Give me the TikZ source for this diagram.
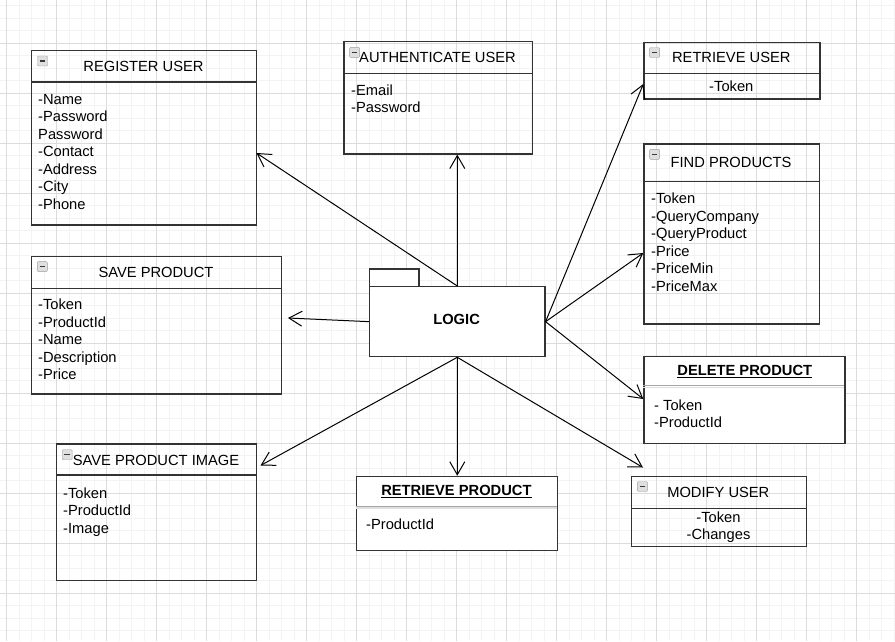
\documentclass[tikz,border=0pt]{standalone}
\usepackage{fontspec}
\setmainfont{Liberation Sans}
\usetikzlibrary{arrows.meta}
\definecolor{minorgrid}{HTML}{F3F3F3}
\definecolor{majorgrid}{HTML}{DCDCDC}
\definecolor{boxline}{HTML}{333333}
\newcommand{\dgfont}{\fontsize{14.7}{17.5}\selectfont}
\begin{document}
\begin{tikzpicture}[x=1pt,y=-1pt,
  box/.style={draw=boxline, line width=1.3pt, inner sep=0pt, anchor=north west},
  wbox/.style={box, fill=white},
  divider/.style={draw=boxline, line width=1.3pt},
  title/.style={font=\dgfont, inner sep=0pt, anchor=base},
  body/.style={font=\dgfont, inner sep=0pt, anchor=north west, align=left},
  cbody/.style={font=\dgfont, inner sep=0pt, anchor=north, align=center},
  icon/.style={draw=gray!75, fill=gray!25, rounded corners=1pt, minimum size=10pt, inner sep=0pt,
    path picture={\draw[gray!45!black, line width=1.3pt] ([xshift=-2.8pt]path picture bounding box.center) -- ([xshift=2.8pt]path picture bounding box.center);}},
  link/.style={draw=black, line width=1pt, -{Straight Barb[length=13pt,width=15pt,line width=1pt]}}
]
\useasboundingbox (0,0) rectangle (895,641);
% grid
\foreach \i in {0,...,71} {\draw[minorgrid, line width=1pt] ({6.7+12.5*\i},0) -- ({6.7+12.5*\i},641);}
\foreach \i in {0,...,51} {\draw[minorgrid, line width=1pt] (0,{5.8+12.5*\i}) -- (895,{5.8+12.5*\i});}
\foreach \i in {0,...,17} {\draw[majorgrid, line width=1pt] ({6.7+50*\i},0) -- ({6.7+50*\i},641);}
\foreach \i in {0,...,12} {\draw[majorgrid, line width=1pt] (0,{43.3+50*\i}) -- (895,{43.3+50*\i});}

% REGISTER USER
\node[box, minimum width=225pt, minimum height=174.3pt] (reg) at (31,50) {};
\draw[divider] (31,82) -- (256,82);
\node[icon] (regicon) at (42.5,61) {};
\node[title] (regt) at (143.5,71.3) {REGISTER USER};
\node[body] (regb) at (38,92) {\strut-Name\\\strut-Password\\\strut Password\\\strut-Contact\\\strut-Address\\\strut-City\\\strut-Phone};

% AUTHENTICATE USER
\node[box, minimum width=188.4pt, minimum height=112.3pt] (auth) at (343.3,41) {};
\draw[divider] (343.3,73.3) -- (531.7,73.3);
\node[icon] (authicon) at (354.6,52.3) {};
\node[title] (autht) at (437.5,62.6) {AUTHENTICATE USER};
\node[body] (authb) at (351,83) {\strut-Email\\\strut-Password};

% RETRIEVE USER
\node[box, minimum width=176pt, minimum height=56.6pt] (ru) at (643.3,41.7) {};
\draw[divider] (643.3,73.3) -- (819.3,73.3);
\node[icon] (ruicon) at (654.6,52.5) {};
\node[title] (rut) at (731.3,62.8) {RETRIEVE USER};
\node[cbody] (rub) at (731.3,79) {\strut-Token};

% FIND PRODUCTS
\node[box, minimum width=175.7pt, minimum height=180pt] (fp) at (643.3,143.3) {};
\draw[divider] (643.3,181.3) -- (819,181.3);
\node[icon] (fpicon) at (654.6,154.3) {};
\node[title] (fpt) at (731.1,167.5) {FIND PRODUCTS};
\node[body] (fpb) at (651,191.3) {\strut-Token\\\strut-QueryCompany\\\strut-QueryProduct\\\strut-Price\\\strut-PriceMin\\\strut-PriceMax};

% SAVE PRODUCT
\node[box, minimum width=250pt, minimum height=137.3pt] (sp) at (31,256) {};
\draw[divider] (31,288.3) -- (281,288.3);
\node[icon] (spicon) at (42.3,266.6) {};
\node[title] (spt) at (156,277.5) {SAVE PRODUCT};
\node[body] (spb) at (38,297.5) {\strut-Token\\\strut-ProductId\\\strut-Name\\\strut-Description\\\strut-Price};

% LOGIC
\node[wbox, minimum width=49.3pt, minimum height=17.7pt] (logictab) at (369,268.3) {};
\node[wbox, minimum width=175.3pt, minimum height=70pt] (logic) at (369,286) {};
\node[font=\dgfont\bfseries, inner sep=0pt, anchor=base] (logict) at (456.6,324.5) {LOGIC};

% DELETE PRODUCT
\node[wbox, minimum width=201pt, minimum height=87pt] (dp) at (643.3,355.7) {};
\draw[gray!70, line width=1pt] (643.3,385.3) -- (844.3,385.3);
\draw[gray!25, line width=1.2pt] (643.3,387.4) -- (844.3,387.4);
\node[title, font=\dgfont\bfseries] (dpt) at (744.8,375.8) {\underline{DELETE PRODUCT}};
\node[body] (dpb) at (654,398) {\strut- Token\\\strut-ProductId};

% SAVE PRODUCT IMAGE
\node[box, minimum width=200pt, minimum height=136.7pt] (spi) at (56,443.3) {};
\draw[divider] (56,475) -- (256,475);
\node[icon] (spiicon) at (67.2,454.7) {};
\node[title] (spit) at (156,465.3) {SAVE PRODUCT IMAGE};
\node[body] (spib) at (63,485.7) {\strut-Token\\\strut-ProductId\\\strut-Image};

% RETRIEVE PRODUCT
\node[wbox, minimum width=200.7pt, minimum height=74.3pt] (rp) at (356,475.7) {};
\draw[gray!70, line width=1pt] (356,506) -- (556.7,506);
\draw[gray!25, line width=1.2pt] (356,508) -- (556.7,508);
\node[title, font=\dgfont\bfseries] (rpt) at (456.4,495.5) {\underline{RETRIEVE PRODUCT}};
\node[body] (rpb) at (366,517.3) {\strut-ProductId};

% MODIFY USER
\node[box, minimum width=174.7pt, minimum height=70pt] (mu) at (631,475.7) {};
\draw[divider] (631,508.3) -- (805.7,508.3);
\node[icon] (muicon) at (642.3,486.5) {};
\node[title] (mut) at (718.3,497.5) {MODIFY USER};
\node[cbody] (mub) at (718.5,510) {\strut-Token\\\strut-Changes};

% connector ends
\coordinate (regTip) at (256.5,153);
\coordinate (spTip) at (288,318);
\coordinate (spiTip) at (260.5,465.5);
\coordinate (muTip) at (643,467.5);
\coordinate (ruTip) at (643.3,84);
\coordinate (fpTip) at (643.3,253);
\coordinate (dpTip) at (643.3,399);

% connectors
\draw[link] (logic.north) -- (logic.north |- auth.south);
\draw[link] (logic.north) -- (regTip);
\draw[link] (logic.west) -- (spTip);
\draw[link] (logic.east) -- (ruTip);
\draw[link] (logic.east) -- (fpTip);
\draw[link] (logic.east) -- (dpTip);
\draw[link] (logic.south) -- (logic.south |- rp.north);
\draw[link] (logic.south) -- (spiTip);
\draw[link] (logic.south) -- (muTip);
\end{tikzpicture}
\end{document}
